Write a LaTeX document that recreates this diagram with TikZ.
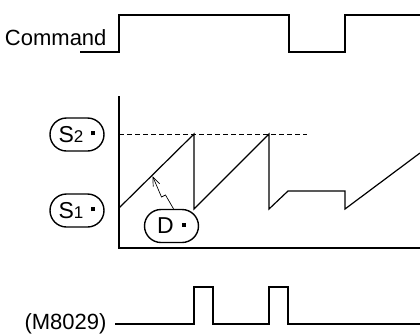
\documentclass[tikz,border=0pt]{standalone}
\usepackage{fontspec}
\setmainfont{Liberation Sans}
\usetikzlibrary{arrows.meta,shapes.misc}

\tikzset{
  sig/.style={line width=1.2pt},
  tag/.style={draw, line width=1.4pt, rounded rectangle, minimum width=54pt,
    minimum height=33pt, inner sep=0pt},
}
\newcommand{\tagdot}{\hspace{8pt}\raisebox{7pt}{\rule{4pt}{4pt}}}
\newcommand{\bigfont}{\fontsize{22}{24}\selectfont}
\newcommand{\tagfont}{\fontsize{23}{24}\selectfont}
\newcommand{\subfont}{\fontsize{17}{18}\selectfont}

\begin{document}
\begin{tikzpicture}[x=1pt,y=-1pt]
\useasboundingbox (0,0) rectangle (420,333);
\coordinate[] (A) at (80,52);
\coordinate[] (B) at (119,52);
\coordinate[] (C) at (119,15);
\coordinate[] (D) at (289,15);
\coordinate[] (E) at (289,52);
\coordinate[] (F) at (345,52);
\coordinate[] (G) at (345,15);
\coordinate[] (H) at (420,15);
\coordinate[] (O) at (119,248);
\coordinate[] (Y) at (119,96);
\coordinate[] (X) at (420,248);
\coordinate[] (L) at (119,134);
\coordinate[] (R) at (307,134);
\coordinate[] (tip) at (152.5,176);

% labels
\node[anchor=base east,font=\bigfont] (cmd) at (110,45) {Command};
\node[anchor=east,font=\bigfont] (flag) at (110,324) {(M8029)};
\node[tag] (s2) at (77,134.5) {{\tagfont S}{\subfont 2}\tagdot};
\node[tag] (s1) at (77,210.5) {{\tagfont S}{\subfont 1}\tagdot};
\node[tag] (d) at (171.5,226) {{\tagfont D}\tagdot};

% command signal
\draw [sig] (A) -- (B) -- (C) -- (D) -- (E) -- (F) -- (G) -- (H);
% axes
\draw [line width=1.5pt] (Y) -- (O) -- (X);
\draw [line width=0.6pt,dash pattern=on 5pt off 3pt] (L) -- (R);
% output value
\draw [sig] (119,208) -- (194,134) -- (194,209) -- (269,134) -- (269,209)
  -- (288,191) -- (345,191) -- (345,209) -- (420,153);
\draw [line width=0.7pt,-{Straight Barb[length=9pt,width=7pt]}]
  ([xshift=2pt]d.north) -- (165.5,195) -- (161.5,197) -- (tip);
% M8029 flag
\draw [sig] (flag.east) ++(5,0) -- (194,324) -- (194,287) -- (213,287) -- (213,324)
  -- (269,324) -- (269,287) -- (288,287) -- (288,324) -- (420,324);
\end{tikzpicture}
\end{document}
